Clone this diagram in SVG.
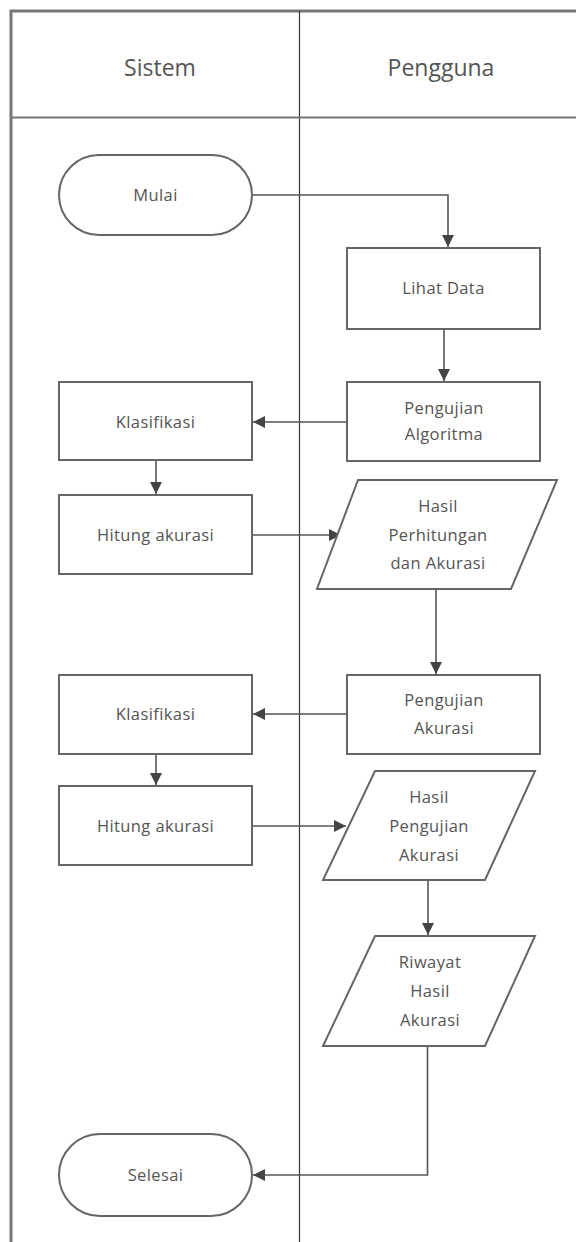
<svg xmlns="http://www.w3.org/2000/svg" width="576" height="1242" viewBox="0 0 576 1242">
<defs>
<marker id="arr" viewBox="0 0 10 10" refX="10" refY="5" markerWidth="12" markerHeight="12" markerUnits="userSpaceOnUse" orient="auto">
<path d="M0,0 L10,5 L0,10 Z" fill="#444"/>
</marker>
<style>
.lane{fill:none;stroke:#777;stroke-width:3}
.div{fill:none;stroke:#333;stroke-width:1.2}
.hdr{font-family:"Open Sans","DejaVu Sans",sans-serif;font-size:23px;fill:#555;text-anchor:middle}
.node{fill:#fff;stroke:#666;stroke-width:2}
.t{font-family:"Open Sans","DejaVu Sans",sans-serif;font-size:16.5px;letter-spacing:0.4px;fill:#555;text-anchor:middle}
.c{fill:none;stroke:#555;stroke-width:1.6}
</style>
</defs>
<rect width="576" height="1242" fill="#fff"/>
<g id="swimlanes">
<path class="lane" d="M11,1242 V11 H576"/>
<line class="div" x1="299.5" y1="11" x2="299.5" y2="1242"/>
<line class="lane" x1="11" y1="117.5" x2="576" y2="117.5" style="stroke-width:2"/>
<text class="hdr" x="160" y="76">Sistem</text>
<text class="hdr" x="441" y="76">Pengguna</text>
</g>
<g id="connectors">
<path class="c" d="M252,195 H448 V247" marker-end="url(#arr)"/>
<path class="c" d="M444,329 V381" marker-end="url(#arr)"/>
<path class="c" d="M347,422 H253" marker-end="url(#arr)"/>
<path class="c" d="M156,460 V494" marker-end="url(#arr)"/>
<path class="c" d="M252,535 H341" marker-end="url(#arr)"/>
<path class="c" d="M436,589 V674" marker-end="url(#arr)"/>
<path class="c" d="M347,714 H253" marker-end="url(#arr)"/>
<path class="c" d="M156,754 V785" marker-end="url(#arr)"/>
<path class="c" d="M252,826 H346" marker-end="url(#arr)"/>
<path class="c" d="M428,880 V935" marker-end="url(#arr)"/>
<path class="c" d="M427.5,1046 V1175 H253" marker-end="url(#arr)"/>
</g>
<g id="mulai">
<rect class="node" x="59" y="155" width="193" height="80" rx="40"/>
<text class="t" x="155.5" y="201">Mulai</text>
</g>
<g id="lihat-data">
<rect class="node" x="347" y="248" width="193" height="81"/>
<text class="t" x="443.5" y="294">Lihat Data</text>
</g>
<g id="pengujian-algoritma">
<rect class="node" x="347" y="382" width="193" height="79"/>
<text class="t" x="444" y="414">Pengujian</text>
<text class="t" x="444" y="440">Algoritma</text>
</g>
<g id="klasifikasi-1">
<rect class="node" x="59" y="382" width="193" height="78"/>
<text class="t" x="155.5" y="428">Klasifikasi</text>
</g>
<g id="hitung-akurasi-1">
<rect class="node" x="59" y="495" width="193" height="79"/>
<text class="t" x="155.5" y="541">Hitung akurasi</text>
</g>
<g id="hasil-perhitungan">
<path class="node" d="M358,480 H557 L511,589 H317 Z"/>
<text class="t" x="438" y="512">Hasil</text>
<text class="t" x="438" y="541">Perhitungan</text>
<text class="t" x="438" y="569">dan Akurasi</text>
</g>
<g id="pengujian-akurasi">
<rect class="node" x="347" y="675" width="193" height="79"/>
<text class="t" x="444" y="706">Pengujian</text>
<text class="t" x="444" y="734">Akurasi</text>
</g>
<g id="klasifikasi-2">
<rect class="node" x="59" y="675" width="193" height="79"/>
<text class="t" x="155.5" y="720">Klasifikasi</text>
</g>
<g id="hitung-akurasi-2">
<rect class="node" x="59" y="786" width="193" height="79"/>
<text class="t" x="155.5" y="832">Hitung akurasi</text>
</g>
<g id="hasil-pengujian-akurasi">
<path class="node" d="M375,771 H535 L485,880 H323 Z"/>
<text class="t" x="429" y="803">Hasil</text>
<text class="t" x="429" y="832">Pengujian</text>
<text class="t" x="429" y="861">Akurasi</text>
</g>
<g id="riwayat-hasil-akurasi">
<path class="node" d="M375,936 H535 L485,1046 H323 Z"/>
<text class="t" x="430" y="968">Riwayat</text>
<text class="t" x="430" y="997">Hasil</text>
<text class="t" x="430" y="1026">Akurasi</text>
</g>
<g id="selesai">
<rect class="node" x="59" y="1134" width="193" height="82" rx="41"/>
<text class="t" x="155.5" y="1181">Selesai</text>
</g>
</svg>
